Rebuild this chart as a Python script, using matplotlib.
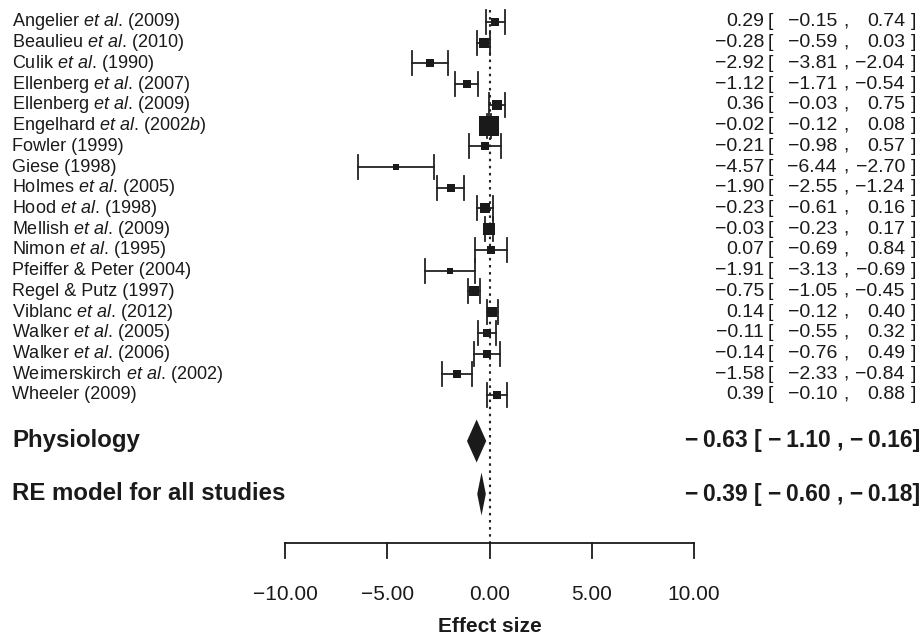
import matplotlib
matplotlib.use('Agg')
import matplotlib.pyplot as plt
import numpy as np

plt.rcParams['font.family'] = ['Liberation Sans', 'DejaVu Sans']
plt.rcParams['mathtext.fontset'] = 'custom'
plt.rcParams['mathtext.rm'] = 'Liberation Sans'
plt.rcParams['mathtext.it'] = 'Liberation Sans:italic'

# study labels
names = ['Angelier', 'Beaulieu', 'Culik', 'Ellenberg', 'Ellenberg', 'Engelhard',
         'Fowler', 'Giese', 'Holmes', 'Hood', 'Mellish', 'Nimon',
         'Pfeiffer & Peter', 'Regel & Putz', 'Viblanc', 'Walker', 'Walker',
         'Weimerskirch', 'Wheeler']
etal = [True, True, True, True, True, True, False, False, True, True, True, True,
        False, False, True, True, True, True, False]
years = ['2009', '2010', '1990', '2007', '2009', '2002b', '1999', '1998', '2005',
         '1998', '2009', '1995', '2004', '1997', '2012', '2005', '2006', '2002', '2009']

est = [0.29, -0.28, -2.92, -1.12, 0.36, -0.02, -0.21, -4.57, -1.90, -0.23,
       -0.03, 0.07, -1.91, -0.75, 0.14, -0.11, -0.14, -1.58, 0.39]
lower = [-0.15, -0.59, -3.81, -1.71, -0.03, -0.12, -0.98, -6.44, -2.55, -0.61,
         -0.23, -0.69, -3.13, -1.05, -0.12, -0.55, -0.76, -2.33, -0.10]
upper = [0.74, 0.03, -2.04, -0.54, 0.75, 0.08, 0.57, -2.70, -1.24, 0.16,
         0.17, 0.84, -0.69, -0.45, 0.40, 0.32, 0.49, -0.84, 0.88]

summary_labels = ['Physiology', 'RE model for all studies']
summary_est = [-0.63, -0.39]
summary_lower = [-1.10, -0.60]
summary_upper = [-0.16, -0.18]

xticks = [-10, -5, 0, 5, 10]


def fmt(v):
    s = '%.2f' % abs(v)
    return ('\u2212' + s) if v < 0 else s


W, H = 923, 637
fig = plt.figure(figsize=(W / 100, H / 100), dpi=100)
ax = fig.add_axes([0, 0, 1, 1])
ax.axis('off')

# x: effect units, -10 at px 285, 10 at px 694 ; y: pixel rows (inverted)
upp = 20.0 / (694 - 285)
ax.set_xlim(-10 - 285 * upp, 10 + (W - 694) * upp)
ax.set_ylim(H, 0)

def px(p):
    return -10 + (p - 285) * upp

ys = 22 + 20.72 * np.arange(len(est))
y_sum = [441, 494]
y_axis = 543
ink = '#1a1a1a'
fs = 13
fs_num = 14

# zero reference line
ax.plot([0, 0], [10, y_axis], color='#222222', lw=1.5, ls=(0, (1.2, 2.2)))

# square size from inverse standard error
se = (np.array(upper) - np.array(lower)) / (2 * 1.96)
inv = 1 / se
sizes = 4.5 + (inv - inv.min()) / (inv.max() - inv.min()) * 9.5

for i in range(len(est)):
    y = ys[i]
    ax.plot([lower[i], upper[i]], [y, y], color='#222222', lw=1.3)
    for e in (lower[i], upper[i]):
        ax.plot([e, e], [y - 12, y + 12], color='#222222', lw=1.3)
    ax.plot(est[i], y, marker='s', ms=sizes[i], color=ink, mew=0)

    # left label
    yr = years[i]
    if yr.endswith('b'):
        yr = yr[:-1] + r'$\it{b}$'
    if etal[i]:
        t = names[i] + r' $\it{et\ al}$. (' + yr + ')'
    else:
        t = names[i] + ' (' + yr + ')'
    ax.text(px(12), y, t, fontsize=fs, va='center', ha='left', color=ink)

    # right columns
    ax.text(px(764), y, fmt(est[i]), fontsize=fs_num, va='center', ha='right', color=ink)
    ax.text(px(768), y, '[', fontsize=fs_num, va='center', ha='left', color=ink)
    ax.text(px(837), y, fmt(lower[i]), fontsize=fs_num, va='center', ha='right', color=ink)
    ax.text(px(843), y, ',', fontsize=fs_num, va='center', ha='left', color=ink)
    ax.text(px(905), y, fmt(upper[i]), fontsize=fs_num, va='center', ha='right', color=ink)
    ax.text(px(911), y, ']', fontsize=fs_num, va='center', ha='left', color=ink)

# summary diamonds
for j in range(2):
    y = y_sum[j]
    ax.fill([summary_lower[j], summary_est[j], summary_upper[j], summary_est[j]],
            [y, y - 21.5, y, y + 21.5], color=ink, lw=0)
    ax.text(px(12), y, summary_labels[j], fontsize=17.3, fontweight='bold',
            va='center', ha='left', color=ink)
    s = '%s [ %s , %s]' % (fmt(summary_est[j]), fmt(summary_lower[j]), fmt(summary_upper[j]))
    s = s.replace('\u2212', '\u2212\u2009')
    ax.text(px(920), y, s, fontsize=16.5, fontweight='bold', va='center', ha='right',
            color=ink)

# x axis
ax.plot([xticks[0], xticks[-1]], [y_axis, y_axis], color=ink, lw=1.3)
for t in xticks:
    ax.plot([t, t], [y_axis, y_axis + 15], color=ink, lw=1.3)
    ax.text(t, 594, fmt(t), fontsize=15, va='center', ha='center', color=ink)
ax.text(0, 627, 'Effect size', fontsize=15, fontweight='bold', va='center',
        ha='center', color=ink)

fig.savefig('out.png', dpi=100)
